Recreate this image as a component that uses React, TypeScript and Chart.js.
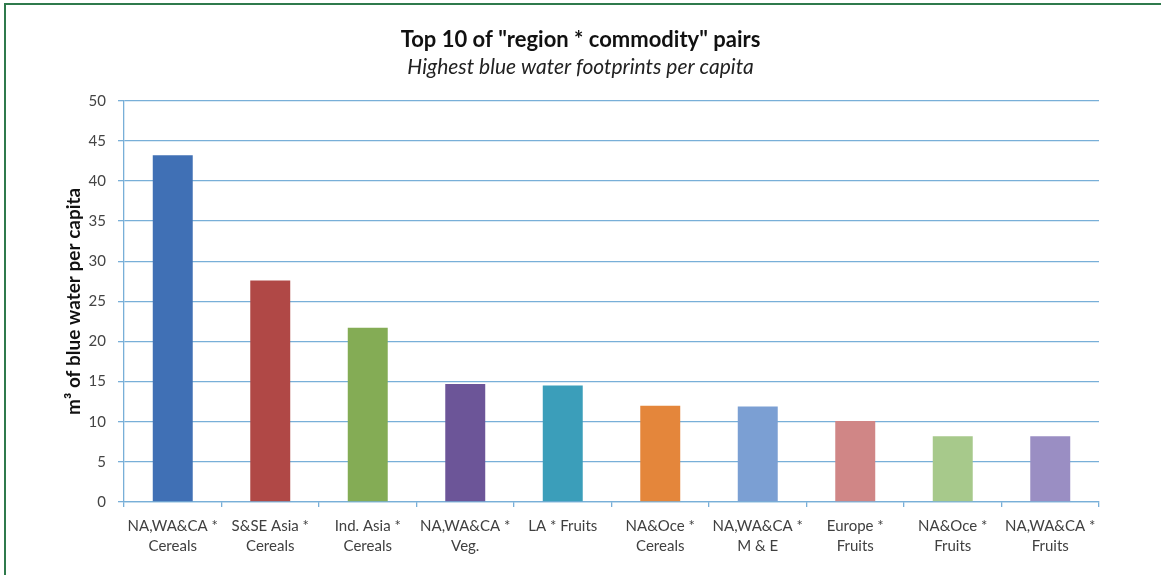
import React, { useEffect, useRef } from "react";
import { Chart, registerables } from "chart.js";

Chart.register(...registerables);

const categories: string[][] = [
  ["NA,WA&CA *", "Cereals"],
  ["S&SE Asia *", "Cereals"],
  ["Ind. Asia *", "Cereals"],
  ["NA,WA&CA *", "Veg."],
  ["LA * Fruits"],
  ["NA&Oce *", "Cereals"],
  ["NA,WA&CA *", "M & E"],
  ["Europe *", "Fruits"],
  ["NA&Oce *", "Fruits"],
  ["NA,WA&CA *", "Fruits"],
];

const footprints: number[] = [43.2, 27.6, 21.7, 14.7, 14.5, 12.0, 11.9, 10.1, 8.2, 8.2];

const barColors: string[] = [
  "#4070b5",
  "#b04846",
  "#84ac55",
  "#6c5598",
  "#3b9eba",
  "#e4863b",
  "#7b9fd3",
  "#d08686",
  "#a7c98b",
  "#9a8ec3",
];

const yMin = 0;
const yMax = 50;
const yStep = 5;

const titleText = 'Top 10 of "region * commodity" pairs';
const subtitleText = "Highest blue water footprints per capita";
const yAxisTitle = "m\u00B3 of blue water per capita";

const FONT = "Lato, 'Noto Sans', sans-serif";
const GRID = "#78afd8";

export default function App() {
  const ref = useRef<HTMLCanvasElement | null>(null);

  useEffect(() => {
    if (!ref.current) return;
    const chart = new Chart(ref.current, {
      type: "bar",
      data: {
        labels: categories,
        datasets: [
          {
            data: footprints,
            backgroundColor: barColors,
            borderWidth: 0,
            barPercentage: 0.41,
            categoryPercentage: 1,
          },
        ],
      },
      options: {
        animation: false,
        responsive: false,
        layout: { padding: { top: 0, left: 62, right: 62, bottom: 0 } },
        plugins: {
          legend: { display: false },
          tooltip: { enabled: false },
          title: {
            display: true,
            text: titleText,
            color: "#111",
            font: { family: FONT, size: 22, weight: "bold", lineHeight: 1.2 },
            padding: { top: 26.8, bottom: 0 },
          },
          subtitle: {
            display: true,
            text: subtitleText,
            color: "#222",
            font: { family: FONT, size: 21, style: "italic", lineHeight: 1.2 },
            padding: { top: 1.7, bottom: 20.6 },
          },
        },
        scales: {
          x: {
            grid: {
              display: true,
              drawOnChartArea: false,
              drawTicks: true,
              tickLength: 5,
              offset: true,
              color: GRID,
              lineWidth: 1.3,
            },
            border: { display: true, color: GRID, width: 1.3 },
            ticks: {
              color: "#404040",
              padding: 9,
              maxRotation: 0,
              autoSkip: false,
              font: { family: FONT, size: 15, lineHeight: "20px" },
            },
            afterFit: (axis: any) => {
              axis.height = 73;
            },
          },
          y: {
            min: yMin,
            max: yMax,
            grid: {
              color: GRID,
              drawTicks: true,
              tickLength: 6,
              lineWidth: 1.3,
            },
            border: { display: true, color: GRID, width: 1.3 },
            ticks: {
              stepSize: yStep,
              color: "#444",
              padding: 12,
              font: { family: FONT, size: 15 },
            },
            title: {
              display: true,
              text: yAxisTitle,
              color: "#111",
              font: { family: FONT, size: 19, weight: "bold", lineHeight: 1.2 },
              padding: { top: 0, bottom: 0 },
            },
            afterFit: (axis: any) => {
              axis.width = 62;
            },
          },
        },
      },
    });
    return () => chart.destroy();
  }, []);

  return (
    <div
      style={{
        position: "fixed",
        left: 0,
        top: 0,
        width: 1161,
        height: 575,
        background: "#fff",
        overflow: "hidden",
      }}
    >
      <canvas ref={ref} width={1161} height={575} style={{ display: "block" }} />
      <div
        style={{
          position: "absolute",
          left: 4,
          top: 3,
          width: 1160,
          height: 575,
          borderTop: "2px solid #2f7a4c",
          borderLeft: "2px solid #2f7a4c",
          pointerEvents: "none",
        }}
      />
    </div>
  );
}
